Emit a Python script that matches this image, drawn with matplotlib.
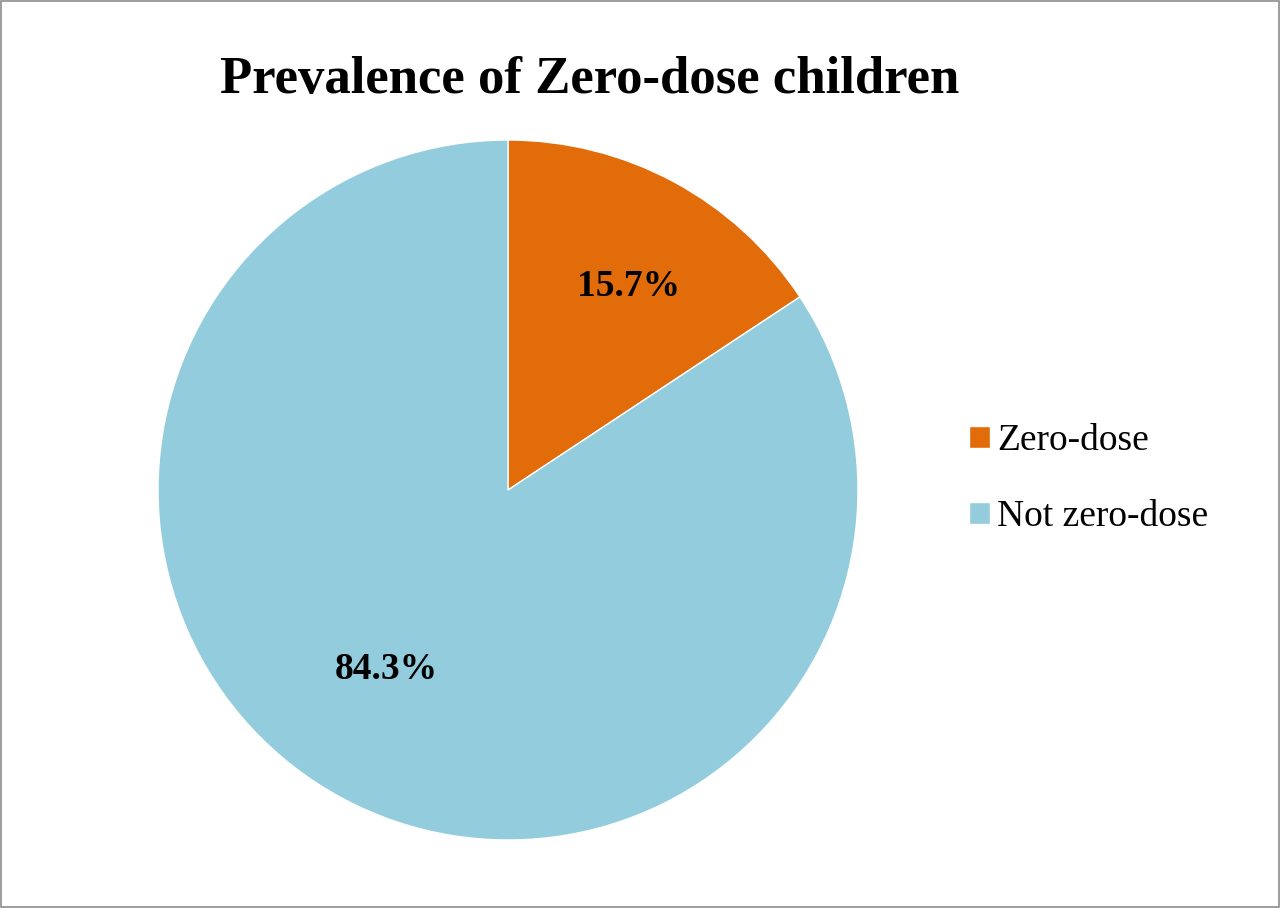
import numpy as np
import matplotlib
matplotlib.use("Agg")
import matplotlib.pyplot as plt
from matplotlib.patches import Rectangle

categories = ["Zero-dose", "Not zero-dose"]
shares = [15.7, 84.3]
colors = ["#E36C0A", "#93CDDD"]

plt.rcParams["font.family"] = ["Liberation Serif", "DejaVu Serif"]

fig = plt.figure(figsize=(12.8, 9.08), dpi=100)
ax = fig.add_axes([158 / 1280, 68 / 908, 700 / 1280, 700 / 908])

wedges, texts, autotexts = ax.pie(
    shares, colors=colors, startangle=90, counterclock=False,
    autopct="%.1f%%", pctdistance=0.68,
    wedgeprops=dict(linewidth=1.0, edgecolor="white"),
    textprops=dict(fontsize=27, fontweight="bold", color="black"),
)
ax.set_xlim(-1, 1)
ax.set_ylim(-1, 1)
ax.set_aspect("equal")

# nudge the value labels to where the original puts them (distance, angle shift in deg)
label_place = [(0.675, -2.5), (0.62, -6.0)]
for w, t, (r, dang) in zip(wedges, autotexts, label_place):
    mid = np.deg2rad((w.theta1 + w.theta2) / 2 + dang)
    t.set_position((r * np.cos(mid), r * np.sin(mid)))

fig.text(0.461, 0.912, "Prevalence of Zero-dose children", ha="center", va="center",
         fontsize=38, fontweight="bold")

leg = fig.legend(wedges, categories, loc="center left", bbox_to_anchor=(969 / 1280, 1 - 479 / 908),
                 frameon=False, fontsize=27, handlelength=0.55, handleheight=0.55,
                 labelspacing=1.1, handletextpad=0.2, borderpad=0, borderaxespad=0)

# thin grey border around the chart area
fig.patches.append(Rectangle((0.001, 0.001), 0.998, 0.998, transform=fig.transFigure,
                             fill=False, edgecolor="#8c8c8c", linewidth=1.2))

fig.savefig("out.png", dpi=100)
